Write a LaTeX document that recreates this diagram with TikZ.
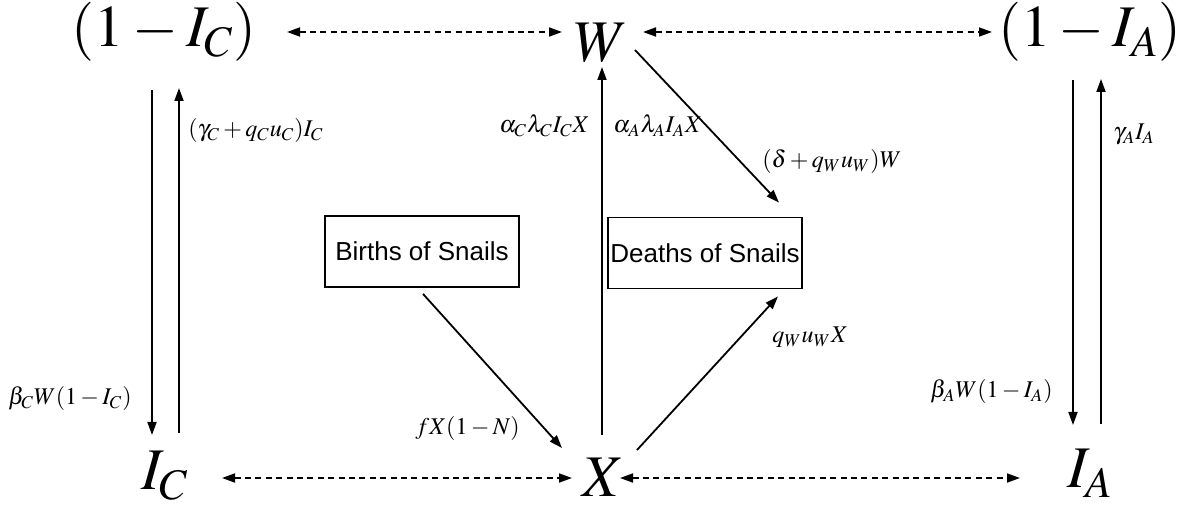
\documentclass[tikz,border=0pt]{standalone}
\usepackage[no-math]{fontspec}
\usepackage{mathptmx}
\setmainfont{Liberation Serif}
\setsansfont{Liberation Sans}
\usetikzlibrary{positioning,arrows.meta}

\begin{document}
\begin{tikzpicture}[
  x=0.5pt, y=-0.5pt,
  >={Triangle[length=6.5pt, width=4.5pt]},
  big/.style={font=\fontsize{29.5}{35}\selectfont, inner sep=0pt, anchor=base},
  lbl/.style={font=\fontsize{12}{14}\selectfont, inner sep=0pt},
  box/.style={draw, line width=0.9pt, font=\sffamily\fontsize{13}{15}\selectfont,
              minimum width=97pt, minimum height=35.5pt, inner sep=0pt},
  flow/.style={->, line width=0.9pt},
  link/.style={<->, line width=0.9pt, dash pattern=on 3pt off 2.2pt},
]
\useasboundingbox (0,0) rectangle (1196,513);

% ============ compartments ============
\node[big] (omc) at (164,47) {$(1-I_C)$};
\node[big] (w)   at (601,62) {$W$};
\node[big] (oma) at (1090,47) {$(1-I_A)$};
\node[big] (ic)  at (165,490) {$I_C$};
\node[big] (x)   at (603,497) {$X$};
\node[big] (ia)  at (1090,488) {$I_A$};

% ---- snail births / deaths ----
\node[box] (births) at (422,251.5) {Births of Snails};
\node[box] (deaths) at (705,253) {Deaths of Snails};

% ============ dashed links ============
\draw[link] ([shift={(123,-15)}]omc.base) -- ([shift={(-39,-30)}]w.base);
\draw[link] ([shift={(42,-30)}]w.base) -- ([shift={(-98,-15)}]oma.base);
\draw[link] ([shift={(57,-12)}]ic.base) -- ([shift={(-31,-19)}]x.base);
\draw[link] ([shift={(17,-19)}]x.base) -- ([shift={(-70,-10)}]ia.base);

% ============ flows ============
% humans, C side
\draw[flow] ([shift={(-12,43)}]omc.base) -- ([shift={(-13,-55)}]ic.base);
\draw[flow] ([shift={(14,-57)}]ic.base) -- ([shift={(15,41)}]omc.base);
% humans, A side
\draw[flow] ([shift={(-17,33)}]oma.base) -- ([shift={(-17,-63)}]ia.base);
\draw[flow] ([shift={(11,-64)}]ia.base) -- ([shift={(11,32)}]oma.base);
% snails and worms
\draw[flow] ([shift={(-1,-62)}]x.base) -- ([shift={(1,5)}]w.base);
\draw[flow] ([shift={(34,-12)}]w.base) -- ([shift={(74,-14)}]deaths.north);
\draw[flow] ([shift={(1,6)}]births.south) -- ([shift={(-41,-49)}]x.base);
\draw[flow] ([shift={(34,-47)}]x.base) -- ([shift={(73,7)}]deaths.south);

% ============ rates ============
\node[lbl, anchor=base west] (gc)   at (188,137) {$(\gamma_C+q_Cu_C)I_C$};
\node[lbl, anchor=base east] (bc)   at (132,405) {$\beta_CW(1-I_C)$};
\node[lbl, anchor=base east] (aclc) at (590,133) {$\alpha_C\lambda_CI_CX$};
\node[lbl, anchor=base west] (aala) at (613,133) {$\alpha_A\lambda_AI_AX$};
\node[lbl, anchor=base west] (dq)   at (762,168) {$(\delta+q_Wu_W)W$};
\node[lbl, anchor=base west] (ga)   at (1113,140) {$\gamma_AI_A$};
\node[lbl, anchor=base east] (ba)   at (1053,398) {$\beta_AW(1-I_A)$};
\node[lbl, anchor=base east] (fx)   at (520,435) {$fX(1-N)$};
\node[lbl, anchor=base west] (qw)   at (772,343) {$q_Wu_WX$};

\end{tikzpicture}
\end{document}
